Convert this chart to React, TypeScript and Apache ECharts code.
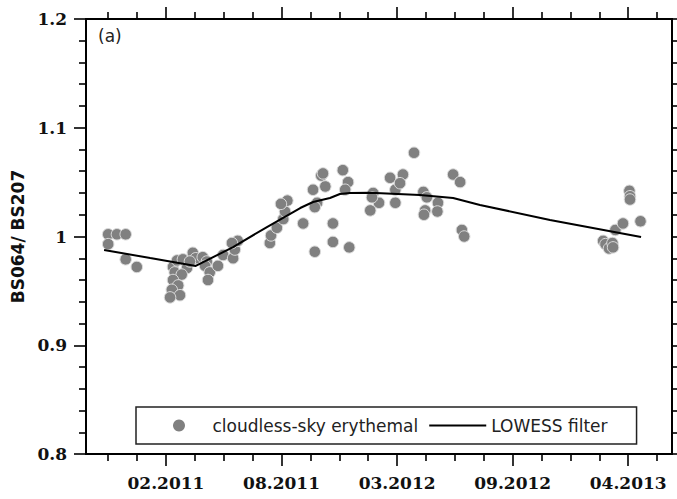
import React, { useEffect, useRef } from 'react';
import * as echarts from 'echarts';

// x values: days since 2011-01-01
const X_MIN = -106;
const X_MAX = 898;
const xTickDays = [31, 229, 427, 625, 823];
const xTickLabels = ['02.2011', '08.2011', '03.2012', '09.2012', '04.2013'];
const xMinorDays = [-68, -18.5, 80.5, 130, 179.5, 278.5, 328, 377.5, 476.5, 526, 575.5, 674.5, 724, 773.5, 872.5];

const yTicks = [0.8, 0.9, 1.0, 1.1, 1.2];
const yTickLabels = ['0.8', '0.9', '1', '1.1', '1.2'];

const scatterDays = [
  -68, -53, -38, -68, -38, -19,
  43, 50, 60, 67, 46, 58, 43, 52, 41, 55, 38, 77, 82, 72,
  94, 101, 98, 106, 103, 120, 129, 146, 149, 154, 144,
  209, 211, 221, 232, 235, 239, 228,
  266, 286, 283, 290, 286, 297, 300, 304, 317, 317, 334, 343, 338, 345,
  386, 396, 381, 384, 415, 424, 437, 432, 424,
  456, 472, 478, 475, 473, 497, 496, 523, 535, 538, 542,
  780, 784, 790, 796, 797, 801, 814, 844, 825, 826, 826,
];
const scatterRatio = [
  1.002, 1.002, 1.002, 0.993, 0.979, 0.972,
  0.972, 0.978, 0.979, 0.971, 0.967, 0.965, 0.960, 0.955, 0.951, 0.946, 0.944, 0.985, 0.980, 0.977,
  0.981, 0.977, 0.973, 0.967, 0.960, 0.973, 0.983, 0.980, 0.988, 0.996, 0.994,
  0.994, 1.001, 1.008, 1.016, 1.023, 1.033, 1.030,
  1.012, 0.986, 1.043, 1.031, 1.027, 1.056, 1.058, 1.046, 1.012, 0.995, 1.061, 1.050, 1.043, 0.990,
  1.040, 1.031, 1.024, 1.036, 1.054, 1.043, 1.057, 1.049, 1.031,
  1.077, 1.041, 1.036, 1.024, 1.020, 1.031, 1.023, 1.057, 1.050, 1.006, 1.000,
  0.996, 0.993, 0.989, 0.994, 0.990, 1.006, 1.012, 1.014, 1.042, 1.037, 1.034,
];

const lowessDays = [-75, 4, 82, 146, 204, 261, 283, 312, 329, 346, 381, 466, 523, 569, 689, 845];
const lowessRatio = [0.9876, 0.9802, 0.9729, 0.9903, 1.0087, 1.0262, 1.0317, 1.0354, 1.0391, 1.0400, 1.0403, 1.0382, 1.0354, 1.029, 1.0152, 0.9995];

const SCATTER_NAME = 'cloudless-sky erythemal';
const LINE_NAME = 'LOWESS filter';

export default function App() {
  const ref = useRef<HTMLDivElement>(null);
  useEffect(() => {
    if (!ref.current) return;
    const chart = echarts.init(ref.current, null, { renderer: 'svg' });
    const axisLine = { show: true, onZero: false, lineStyle: { color: '#000', width: 2 } };
    const tickStyle = { color: '#000', width: 1.6 };
    const tickFont = { fontFamily: 'DejaVu Serif', fontWeight: 'bold' as const, fontSize: 17, color: '#111' };
    const xLabelFor = (v: number) => {
      const i = xTickDays.findIndex((d) => Math.abs(d - v) < 0.5);
      return i >= 0 ? xTickLabels[i] : '';
    };
    const yLabelFor = (v: number) => {
      const i = yTicks.findIndex((d) => Math.abs(d - v) < 1e-6);
      return i >= 0 ? yTickLabels[i] : '';
    };
    const baseX = {
      type: 'value' as const,
      min: X_MIN,
      max: X_MAX,
      splitLine: { show: false },
      axisLine,
    };
    chart.setOption({
      animation: false,
      grid: { left: 86, top: 19, right: 5, bottom: 45, containLabel: false },
      xAxis: [
        {
          ...baseX,
          position: 'bottom',
          axisTick: { show: true, customValues: xTickDays, length: 12, lineStyle: tickStyle },
          axisLabel: { show: true, customValues: xTickDays, formatter: xLabelFor, margin: 20, ...tickFont },
        },
        {
          ...baseX,
          position: 'bottom',
          axisTick: { show: true, customValues: xMinorDays, length: 7, lineStyle: tickStyle },
          axisLabel: { show: false },
        },
        {
          ...baseX,
          position: 'top',
          axisTick: { show: true, customValues: xTickDays, length: 12, lineStyle: tickStyle },
          axisLabel: { show: false },
        },
        {
          ...baseX,
          position: 'top',
          axisTick: { show: true, customValues: xMinorDays, length: 7, lineStyle: tickStyle },
          axisLabel: { show: false },
        },
      ],
      yAxis: [
        {
          type: 'value',
          position: 'left',
          min: 0.8,
          max: 1.2,
          interval: 0.1,
          axisLine,
          splitLine: { show: false },
          axisTick: { show: true, length: 12, lineStyle: tickStyle },
          minorTick: { show: true, splitNumber: 5, length: 7, lineStyle: tickStyle },
          minorSplitLine: { show: false },
          axisLabel: { formatter: yLabelFor, margin: 19, ...tickFont },
          name: 'BS064/ BS207',
          nameLocation: 'middle',
          nameRotate: 90,
          nameGap: 50,
          nameTextStyle: { fontFamily: 'DejaVu Sans', fontWeight: 'bold', fontSize: 17, color: '#111' },
        },
        {
          type: 'value',
          position: 'right',
          min: 0.8,
          max: 1.2,
          interval: 0.1,
          axisLine,
          splitLine: { show: false },
          axisTick: { show: true, length: 12, lineStyle: tickStyle },
          minorTick: { show: true, splitNumber: 5, length: 7, lineStyle: tickStyle },
          minorSplitLine: { show: false },
          axisLabel: { show: false },
        },
      ],
      legend: {
        left: 136,
        top: 407,
        orient: 'horizontal',
        padding: [9, 29, 9, 37],
        itemGap: 10,
        itemWidth: 57,
        itemHeight: 12,
        borderColor: '#222',
        borderWidth: 1.5,
        textStyle: { fontFamily: 'DejaVu Sans', fontSize: 17, color: '#222', lineHeight: 19 },
        data: [
          { name: SCATTER_NAME, icon: 'circle', itemStyle: { borderWidth: 0 } },
          { name: LINE_NAME, itemStyle: { color: 'rgba(0,0,0,0)', borderWidth: 0, opacity: 0 } },
        ],
      },
      graphic: [
        {
          type: 'text',
          left: 98,
          top: 27,
          style: { text: '(a)', fontFamily: 'DejaVu Sans', fontSize: 17, fill: '#222' },
        },
      ],
      series: [
        {
          name: SCATTER_NAME,
          type: 'scatter',
          xAxisIndex: 0,
          yAxisIndex: 0,
          symbol: 'circle',
          symbolSize: 11.5,
          itemStyle: { color: '#808080', borderColor: '#dcdcdc', borderWidth: 1, opacity: 1 },
          data: scatterDays.map((d, i) => [d, scatterRatio[i]]),
        },
        {
          name: LINE_NAME,
          type: 'line',
          xAxisIndex: 0,
          yAxisIndex: 0,
          symbol: 'none',
          showSymbol: false,
          smooth: false,
          lineStyle: { color: '#000', width: 2 },
          itemStyle: { color: '#000' },
          data: lowessDays.map((d, i) => [d, lowessRatio[i]]),
        },
      ],
    });
    return () => chart.dispose();
  }, []);
  return <div ref={ref} style={{ position: 'absolute', left: 0, top: 0, width: 677, height: 499 }} />;
}
